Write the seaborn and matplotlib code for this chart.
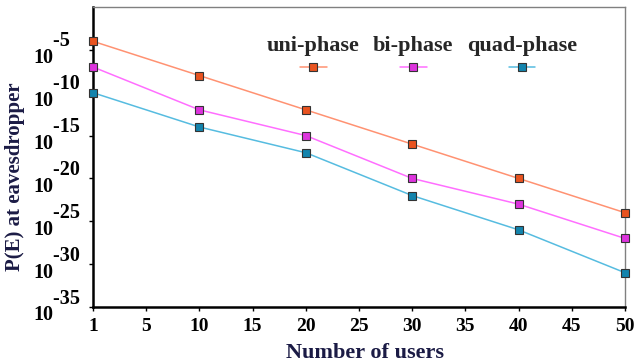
import numpy as np
import pandas as pd
import matplotlib
matplotlib.use('Agg')
import matplotlib.pyplot as plt
import seaborn as sns
from matplotlib.lines import Line2D
from matplotlib.offsetbox import VPacker
from matplotlib.ticker import NullLocator

# ---- data ----
users = [1, 10, 20, 30, 40, 50]
uni_phase = [1e-4, 1e-8, 1e-12, 1e-16, 1e-20, 1e-24]
bi_phase = [1e-7, 1e-12, 1e-15, 1e-20, 1e-23, 1e-27]
quad_phase = [1e-10, 1e-14, 1e-17, 1e-22, 1e-26, 1e-31]
series_names = ['uni-phase', 'bi-phase', 'quad-phase']
x_ticks = [1, 5, 10, 15, 20, 25, 30, 35, 40, 45, 50]
y_exponents = [-35, -30, -25, -20, -15, -10, -5]

sns.set_theme(style='white')
plt.rcParams['font.family'] = ['Liberation Serif', 'DejaVu Serif']
plt.rcParams['font.weight'] = 'bold'

df = pd.DataFrame({
    'users': users * 3,
    'pe': uni_phase + bi_phase + quad_phase,
    'series': np.repeat(series_names, len(users)),
})

line_colors = ['#FF9272', '#FF6EFF', '#56BCE0']
marker_colors = ['#E9531F', '#DD33DD', '#1384AD']
edge = '#333333'

fig = plt.figure(figsize=(6.34, 3.63), dpi=100)
ax = fig.add_axes([93 / 634, 1 - 307 / 363, 532 / 634, 300 / 363])

sns.lineplot(data=df, x='users', y='pe', hue='series', palette=line_colors,
             marker='s', markersize=6, linewidth=1.1, markeredgecolor=edge,
             markeredgewidth=0.8, ax=ax, legend=False, clip_on=False, zorder=3)
for line, mc in zip(ax.get_lines(), marker_colors):
    line.set_markerfacecolor(mc)

# x axis: "1" sits at the left edge
def fwd(x):
    x = np.asarray(x, dtype=float)
    return np.where(x < 5, (x - 1) * 1.25, x)

def inv(y):
    y = np.asarray(y, dtype=float)
    return np.where(y < 5, y * 0.8 + 1, y)

ax.set_xscale('function', functions=(fwd, inv))
ax.set_xlim(1, 50)
ax.set_xticks(x_ticks)
ax.set_xticklabels([str(t) for t in x_ticks], fontsize=14, fontweight='bold')

ax.set_yscale('log')
ax.set_ylim(1e-35, 1)
ax.set_yticks([10.0 ** e for e in y_exponents])
ax.yaxis.set_minor_locator(NullLocator())
ax.xaxis.set_minor_locator(NullLocator())
ax.set_yticklabels(['    %d\n10' % e for e in y_exponents], fontsize=14.5,
                   fontweight='bold', ha='left', va='center',
                   multialignment='left', linespacing=0.8)

ax.tick_params(axis='both', direction='out', length=3, width=1,
               color='black', bottom=True, left=True, labelcolor='black')
ax.tick_params(axis='y', pad=40)
ax.tick_params(axis='x', pad=5)

for s in ['left', 'bottom']:
    ax.spines[s].set_color('black')
    ax.spines[s].set_linewidth(1.8)
for s in ['top', 'right']:
    ax.spines[s].set_color('#808080')
    ax.spines[s].set_linewidth(1.0)

lab_color = '#1b1b45'
ax.set_xlabel('Number of users', fontsize=16, fontweight='bold', color=lab_color)
ax.xaxis.set_label_coords(0.511, -0.12)
ax.set_ylabel('P(E) at eavesdropper', fontsize=15, fontweight='bold', color=lab_color)
ax.yaxis.set_label_coords(-0.128, 0.433)

handles = [Line2D([], [], color=lc, marker='s', markersize=6, markerfacecolor=mc,
                  markeredgecolor=edge, markeredgewidth=0.8, linewidth=1.1)
           for lc, mc in zip(line_colors, marker_colors)]
leg = ax.legend(handles, series_names, ncol=3, frameon=False, loc='upper center',
                bbox_to_anchor=(422 / 634, 1 - 36 / 363), bbox_transform=fig.transFigure,
                prop={'size': 16, 'weight': 'bold'}, handlelength=1.2,
                columnspacing=0.6, borderpad=0, borderaxespad=0)
for col in leg._legend_handle_box.get_children():
    new_items = []
    for item in col.get_children():
        h, t = item.get_children()
        vp = VPacker(pad=0, sep=2, children=[t, h], align='center')
        vp.set_figure(fig)
        new_items.append(vp)
    col._children = new_items

fig.savefig('out.png', dpi=100)
